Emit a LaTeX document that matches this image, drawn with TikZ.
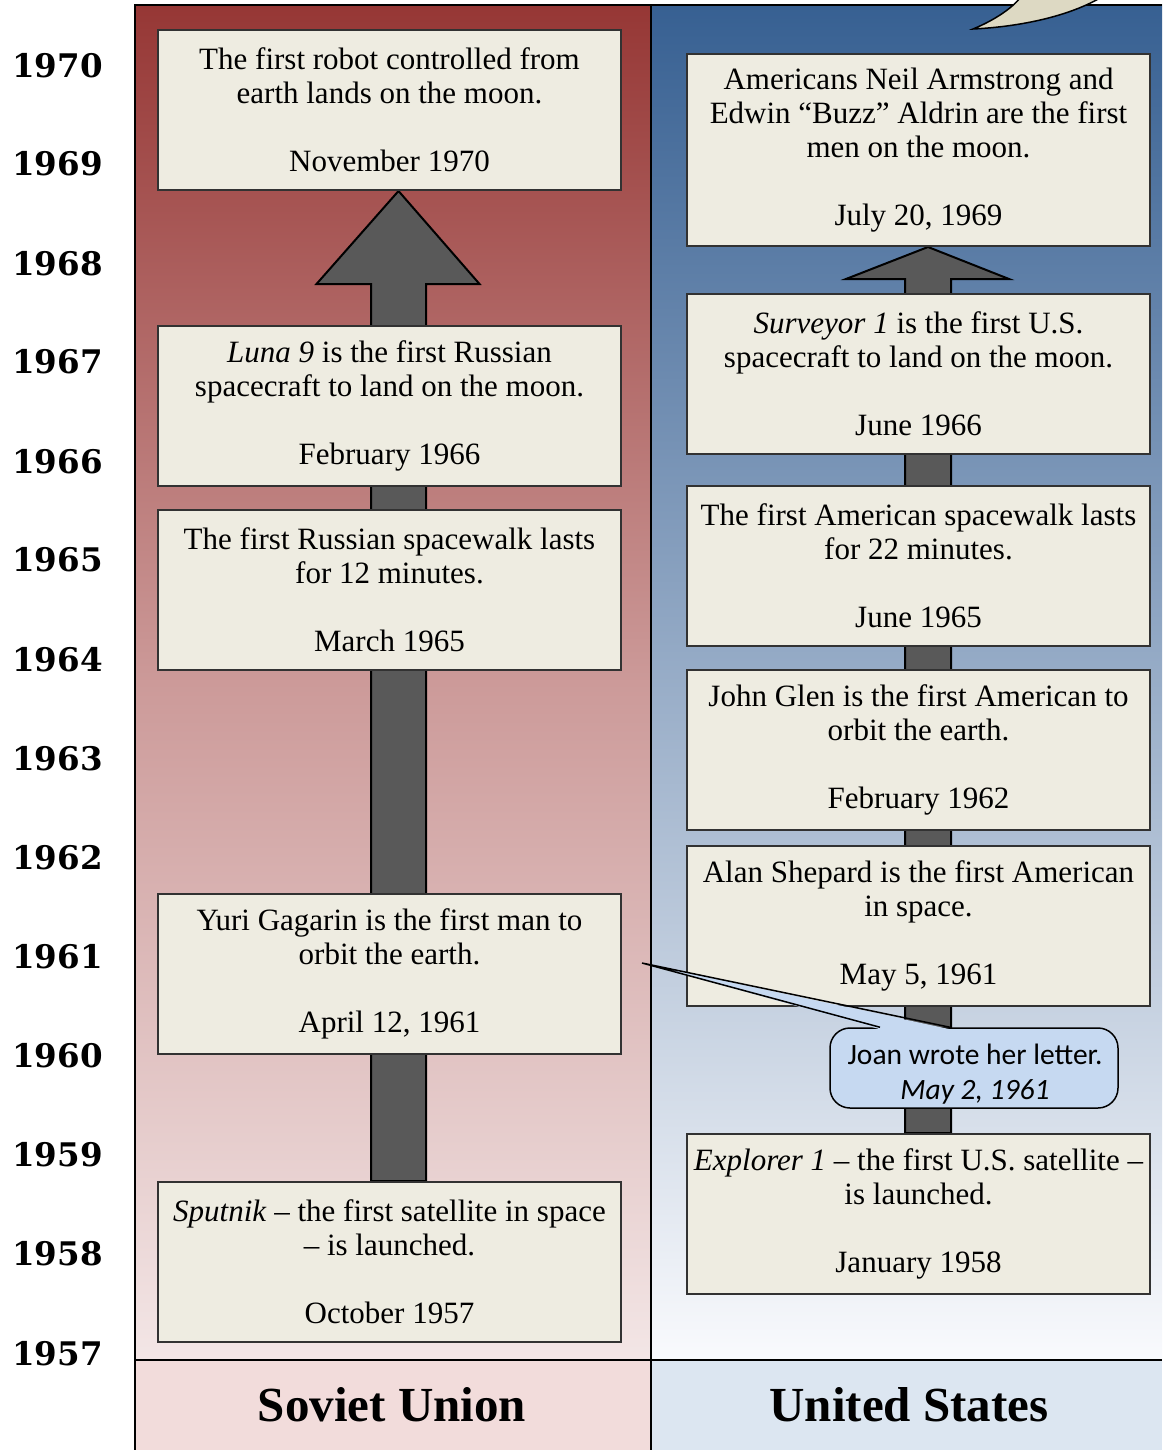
\documentclass[tikz,border=0pt]{standalone}
\usepackage{fontspec}
\setmainfont{Liberation Serif}
\newfontfamily\yearfont{DejaVu Serif}
\newfontfamily\calfont{Carlito}
\usetikzlibrary{calc}
\pgfdeclarelayer{back}
\pgfdeclarelayer{mid}
\pgfsetlayers{back,mid,main}
\definecolor{redtop}{RGB}{150,55,53}
\definecolor{redbot}{RGB}{243,230,230}
\definecolor{bluetop}{RGB}{55,96,146}
\definecolor{bluebot}{RGB}{249,250,253}
\definecolor{pinkrow}{RGB}{242,220,219}
\definecolor{bluerow}{RGB}{220,230,241}
\definecolor{boxfill}{RGB}{238,236,225}
\definecolor{boxline}{RGB}{50,50,50}
\definecolor{arrowgray}{RGB}{89,89,89}
\definecolor{notefill}{RGB}{198,217,241}
\definecolor{beige}{RGB}{221,217,195}
\tikzset{
  evbox/.style={draw=boxline, line width=2pt, fill=boxfill, minimum width=463pt,
    minimum height=160pt, inner sep=0pt, align=center, anchor=north west,
    font=\fontsize{31}{34}\selectfont},
  yearlbl/.style={anchor=west, inner sep=0pt, font=\yearfont\bfseries\fontsize{32.5}{40}\selectfont},
  headlbl/.style={inner sep=0pt, font=\bfseries\fontsize{49}{56}\selectfont},
  bigarrow/.style={draw=black, line width=2pt, fill=arrowgray, line join=miter},
  frame/.style={draw=black, line width=2.5pt},
}
\begin{document}
\begin{tikzpicture}[x=1pt,y=-1pt]
\useasboundingbox (0,0) rectangle (1162,1450);
\begin{pgfonlayer}{back}
  \shade[top color=redtop, bottom color=redbot, middle color={rgb,255:red,204;green,154;blue,153}] (135,5) rectangle (651,1360);
  \shade[top color=bluetop, bottom color=bluebot] (651,5) rectangle (1162,1360);
  \fill[pinkrow] (135,1360) rectangle (651,1450);
  \fill[bluerow] (651,1360) rectangle (1162,1450);
\end{pgfonlayer}

% years
\foreach \yr/\yy in {1970/65,1969/163,1968/263,1967/361,1966/461,1965/559,1964/659,1963/758,1962/857,1961/956,1960/1055,1959/1154,1958/1253,1957/1353}
  \node[yearlbl] (y\yr) at (12,\yy+1) {\yr};

% left column boxes
\node[evbox] (robot) at (157,29) {The first robot controlled from\\earth lands on the moon.\\\mbox{}\\November 1970};
\node[evbox] (luna) at (157,325) {\textit{Luna 9} is the first Russian\\spacecraft to land on the moon.\\\mbox{}\\February 1966};
\node[evbox] (rwalk) at (157,509) {The first Russian spacewalk lasts\\for 12 minutes.\\\mbox{}\\March 1965};
\node[evbox] (yuri) at (157,893) {Yuri Gagarin is the first man to\\orbit the earth.\\\mbox{}\\April 12, 1961};
\node[evbox] (sput) at (157,1181) {\textit{Sputnik} -- the first satellite in space\\-- is launched.\\\mbox{}\\October 1957};

% right column boxes
\node[evbox, minimum height=192pt] (moon) at (686,53) {Americans Neil Armstrong and\\Edwin “Buzz” Aldrin are the first\\men on the moon.\\\mbox{}\\July 20, 1969};
\node[evbox] (surv) at (686,293) {\textit{Surveyor 1} is the first U.S.\\spacecraft to land on the moon.\\\mbox{}\\June 1966};
\node[evbox] (awalk) at (686,485) {The first American spacewalk lasts\\for 22 minutes.\\\mbox{}\\June 1965};
\node[evbox] (glen) at (686,669) {John Glen is the first American to\\orbit the earth.\\\mbox{}\\February 1962};
\node[evbox] (shep) at (686,845) {Alan Shepard is the first American\\in space.\\\mbox{}\\May 5, 1961};
\node[evbox] (expl) at (686,1133) {\textit{Explorer 1} -- the first U.S. satellite --\\is launched.\\\mbox{}\\January 1958};

% big arrows
\begin{pgfonlayer}{mid}
  \coordinate (la) at ($(robot.south)+(9,0)$);
  \coordinate (lb) at ($(sput.north)+(9,0)$);
  \draw[bigarrow] ($(lb)+(-27.5,0)$) -- ($(la)+(-27.5,93)$) -- ($(la)+(-82,93)$)
     -- (la) -- ($(la)+(81,93)$) -- ($(la)+(27.5,93)$) -- ($(lb)+(27.5,0)$) -- cycle;
  \coordinate (ra) at ($(moon.south)+(9.5,0)$);
  \coordinate (rb) at ($(expl.north)+(9.5,0)$);
  \draw[bigarrow] ($(rb)+(-23,0)$) -- ($(ra)+(-23,32)$) -- ($(ra)+(-82,32)$)
     -- (ra) -- ($(ra)+(81,32)$) -- ($(ra)+(23,32)$) -- ($(rb)+(23,0)$) -- cycle;
\end{pgfonlayer}

% frame lines
\draw[frame] (135,1450) -- (135,5) -- (1162,5);
\draw[frame] (651,5) -- (651,1450);
\draw[frame] (135,1360) -- (1162,1360);

% headers
\node[headlbl] (su) at (392,1405) {Soviet Union};
\node[headlbl] (us) at (909,1405) {United States};

% note callout
\node[draw=black, line width=1.5pt, fill=notefill, rounded corners=20pt, minimum width=288pt,
  minimum height=80pt, inner sep=0pt] (note) at (974,1068) {};
\node[inner sep=0pt, align=center, font=\calfont\fontsize{29.5}{35}\selectfont]
  (notetext) at ($(note.center)+(1,6)$) {Joan wrote her letter.\\\textit{May 2, 1961}};
\coordinate (notetip) at (642,963);
\fill[notefill] ($(note.north)+(-94,2)$) -- (notetip) -- ($(note.north)+(-24,2)$) -- cycle;
\draw[line width=1.5pt, line join=miter] ($(note.north)+(-94,0)$) -- (notetip) -- ($(note.north)+(-24,0)$);

% partial callout at top right
\draw[line width=1.5pt, fill=beige] (973,29) .. controls (995,20) and (1012,8) .. (1020,-2)
   -- (1100,-2) .. controls (1065,18) and (1015,27) .. (973,29) -- cycle;
\end{tikzpicture}
\end{document}
